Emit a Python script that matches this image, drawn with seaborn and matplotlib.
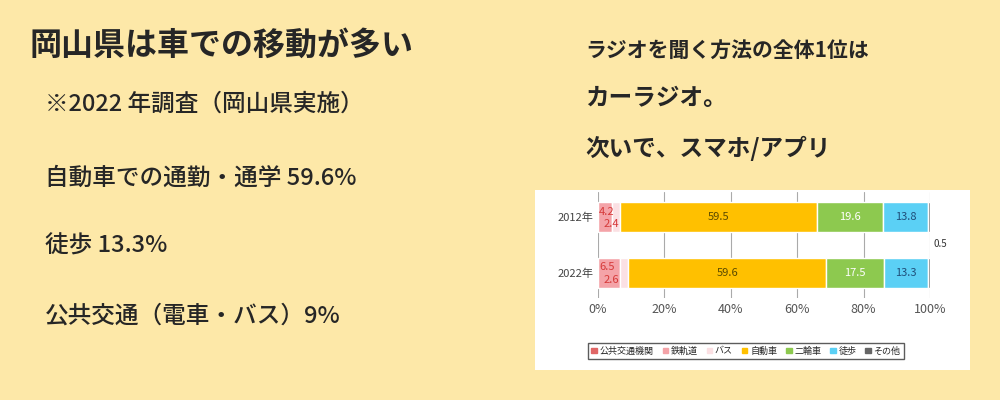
import matplotlib.pyplot as plt
import seaborn as sns
import pandas as pd
from matplotlib.patches import Rectangle

sns.set_style('white')
plt.rcParams['font.family'] = 'Noto Sans CJK JP'

years = ['2012年', '2022年']
categories = ['鉄軌道', 'バス', '自動車', '二輪車', '徒歩', 'その他']
rail = [4.2, 6.5]
bus = [2.4, 2.6]
car = [59.5, 59.6]
bike = [19.6, 17.5]
walk = [13.8, 13.3]
other = [0.5, 0.5]
colors = ['#f4a3a8', '#fbe0e3', '#ffc000', '#8dc94f', '#5bd0f5', '#666666']
label_colors = ['#d63a3a', '#d63a3a', '#5a4a00', 'white', '#1f4e79', '#333333']

df = pd.DataFrame({'year': years, '鉄軌道': rail, 'バス': bus, '自動車': car,
                   '二輪車': bike, '徒歩': walk, 'その他': other})

bg = '#fde8a8'
fig = plt.figure(figsize=(10, 4), dpi=100, facecolor=bg)

# left text block
fig.text(0.03, 0.885, '岡山県は車での移動が多い', fontsize=23, fontweight='bold', va='center')
fig.text(0.045, 0.74, '※2022 年調査（岡山県実施）', fontsize=17, fontweight='medium', va='center')
fig.text(0.045, 0.555, '自動車での通勤・通学 59.6%', fontsize=17, fontweight='medium', va='center')
fig.text(0.045, 0.385, '徒歩 13.3%', fontsize=17, fontweight='medium', va='center')
fig.text(0.045, 0.21, '公共交通（電車・バス）9%', fontsize=17, fontweight='medium', va='center')

# right text block
fig.text(0.585, 0.875, 'ラジオを聞く方法の全体1位は', fontsize=15, fontweight='bold', va='center')
fig.text(0.585, 0.755, 'カーラジオ。', fontsize=17, fontweight='bold', va='center')
fig.text(0.585, 0.63, '次いで、スマホ/アプリ', fontsize=17, fontweight='bold', va='center')

# white chart panel
panel = fig.add_axes([0.535, 0.075, 0.435, 0.45], zorder=0)
panel.set_facecolor('white')
panel.set_xticks([])
panel.set_yticks([])
for s in panel.spines.values():
    s.set_visible(False)

ax = fig.add_axes([0.598, 0.255, 0.332, 0.265], zorder=1)
ax.patch.set_alpha(0)
left = [0.0, 0.0]
for cat, col, lc in zip(categories, colors, label_colors):
    vals = df[cat].tolist()
    sns.barplot(x=vals, y=years, ax=ax, color=col, orient='h', left=left, width=0.55,
                saturation=1)
    for i, (v, l) in enumerate(zip(vals, left)):
        if cat in ('自動車', '二輪車', '徒歩'):
            ax.text(l + v / 2, i, f'{v}', ha='center', va='center', color=lc, fontsize=8)
    left = [a + b for a, b in zip(left, vals)]

for i in range(2):
    ax.text(0.3, i - 0.1, f'{rail[i]}', color='#d63a3a', fontsize=8, va='center')
    ax.text(1.6, i + 0.12, f'{bus[i]}', color='#d63a3a', fontsize=8, va='center')
ax.text(101, 0.48, '0.5', fontsize=7, color='#333333', va='center')

ax.set_xlim(0, 100)
ax.set_ylim(1.45, -0.45)
ax.set_xticks([0, 20, 40, 60, 80, 100])
ax.set_xticklabels(['0%', '20%', '40%', '60%', '80%', '100%'], fontsize=9, color='#555555')
ax.tick_params(axis='y', labelsize=8, colors='#444444', length=0)
ax.tick_params(axis='x', length=0)
ax.grid(axis='x', color='#aaaaaa', linewidth=0.8)
ax.set_axisbelow(True)
for s in ax.spines.values():
    s.set_visible(False)
ax.set_xlabel('')
ax.set_ylabel('')

# legend
leg_names = ['公共交通機関'] + categories
leg_colors = ['#e06666'] + colors
handles = [Rectangle((0, 0), 1, 1, color=c) for c in leg_colors]
fig.legend(handles, leg_names, loc='center', bbox_to_anchor=(0.746, 0.122), ncol=7,
           fontsize=6.5, frameon=True, edgecolor='#333333', fancybox=False,
           handlelength=0.6, handleheight=0.6, handletextpad=0.3, columnspacing=1.0)

fig.savefig('out.png', dpi=100, facecolor=bg)
